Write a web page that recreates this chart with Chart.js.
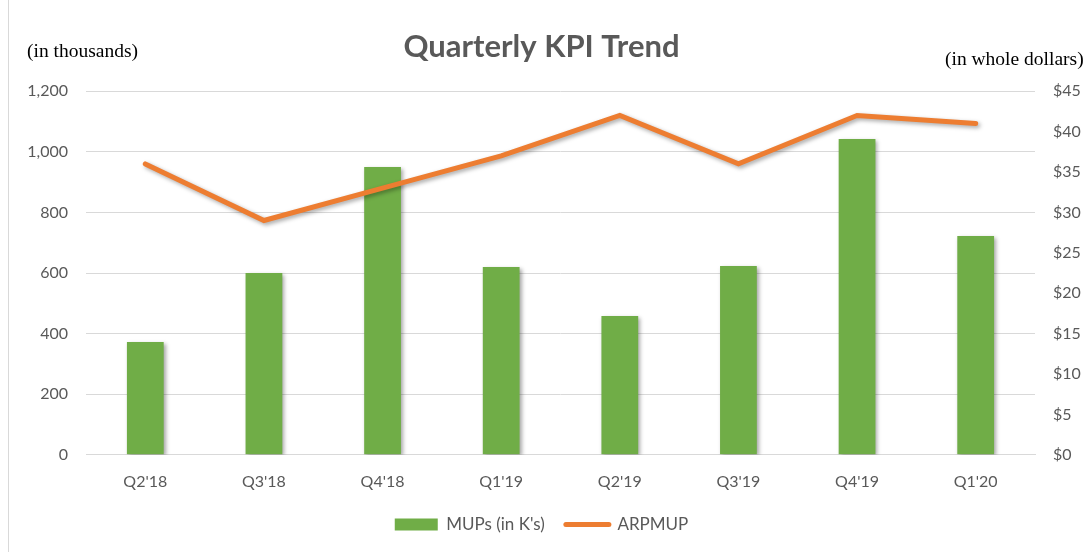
<!DOCTYPE html>
<html>
<head>
<meta charset="utf-8">
<script src="https://cdn.jsdelivr.net/npm/chart.js@4/dist/chart.umd.min.js"></script>
<style>
  html, body { margin:0; padding:0; background:#fff; }
  #wrap { width:1083px; height:552px; position:relative; }
</style>
</head>
<body>
<div id="wrap"><canvas id="kpi" width="1083" height="552"></canvas></div>
<script>
// données
const quarters = ["Q2'18","Q3'18","Q4'18","Q1'19","Q2'19","Q3'19","Q4'19","Q1'20"];
const mups = [372, 600, 950, 620, 458, 623, 1042, 722];
const arpmup = [36, 29, 33, 37, 42, 36, 42, 41];
const leftTicks = [0, 200, 400, 600, 800, 1000, 1200];
const rightTicks = [0, 5, 10, 15, 20, 25, 30, 35, 40, 45];

const grey = "#595959";
const font = "Lato, 'Open Sans', sans-serif";

// petits textes d'axes + bordure gauche + ombres
const extras = {
  id: "extras",
  beforeDraw(chart) {
    const c = chart.ctx;
    c.save();
    c.strokeStyle = "#d9d9d9";
    c.lineWidth = 1;
    c.beginPath();
    c.moveTo(8.5, 0);
    c.lineTo(8.5, 552);
    c.stroke();
    c.restore();
  },
  afterDraw(chart) {
    const c = chart.ctx;
    c.save();
    c.fillStyle = "#000";
    c.font = "19.5px 'Liberation Serif', serif";
    c.textBaseline = "middle";
    c.textAlign = "left";
    c.fillText("(in thousands)", 27, 52);
    c.fillText("(in whole dollars)", 945, 60);
    c.restore();
  },
  beforeDatasetDraw(chart) {
    const c = chart.ctx;
    c.save();
    c.shadowColor = "rgba(0,0,0,0.35)";
    c.shadowBlur = 4;
    c.shadowOffsetX = 2;
    c.shadowOffsetY = 2;
  },
  afterDatasetDraw(chart) {
    chart.ctx.restore();
  }
};

new Chart(document.getElementById("kpi"), {
  data: {
    labels: quarters,
    datasets: [
      {
        type: "line",
        label: "ARPMUP",
        data: arpmup,
        yAxisID: "y2",
        borderColor: "#ED7D31",
        backgroundColor: "#ED7D31",
        borderWidth: 5,
        borderCapStyle: "round",
        borderJoinStyle: "miter",
        pointRadius: 0,
        tension: 0,
        order: 0
      },
      {
        type: "bar",
        label: "MUPs (in K's)",
        data: mups,
        yAxisID: "y",
        backgroundColor: "#70AD47",
        categoryPercentage: 1,
        barPercentage: 0.31,
        order: 1
      }
    ]
  },
  options: {
    responsive: false,
    animation: false,
    layout: { padding: { left: 0, right: 0, top: 0, bottom: 9 } },
    plugins: {
      title: {
        display: true,
        text: "Quarterly KPI Trend",
        color: grey,
        font: { family: font, size: 31, weight: "bold" },
        padding: { top: 28, bottom: 26 }
      },
      legend: {
        position: "bottom",
        reverse: true,
        labels: {
          color: grey,
          font: { family: font, size: 17 },
          usePointStyle: true,
          pointStyleWidth: 43,
          boxWidth: 43,
          boxHeight: 12,
          padding: 8,
          generateLabels(chart) {
            return chart.data.datasets.map((ds, i) => ({
              // espaces en fin pour écarter les deux entrées
              text: ds.type === "line" ? ds.label : ds.label + "   ",
              fillStyle: ds.backgroundColor,
              strokeStyle: ds.backgroundColor,
              lineWidth: ds.type === "line" ? 5 : 0,
              lineCap: "round",
              pointStyle: ds.type === "line" ? "line" : "rect",
              fontColor: grey,
              datasetIndex: i
            }));
          }
        }
      },
      tooltip: { enabled: false }
    },
    scales: {
      x: {
        grid: { display: false, drawTicks: false },
        border: { display: true, color: "#d9d9d9" },
        ticks: { color: grey, font: { family: font, size: 16 }, padding: 17 }
      },
      y: {
        position: "left",
        min: 0, max: 1200,
        afterBuildTicks(s) { s.ticks = leftTicks.map(v => ({ value: v })); },
        afterFit(s) { s.width = 86; },
        grid: { color: "#d9d9d9", drawTicks: false },
        border: { display: false },
        ticks: {
          color: grey,
          font: { family: font, size: 16 },
          padding: 18,
          callback: v => v.toLocaleString("en-US")
        }
      },
      y2: {
        position: "right",
        min: 0, max: 45,
        afterBuildTicks(s) { s.ticks = rightTicks.map(v => ({ value: v })); },
        afterFit(s) { s.width = 48; },
        grid: { display: false, drawTicks: false },
        border: { display: false },
        ticks: {
          color: grey,
          font: { family: font, size: 16 },
          padding: 18,
          callback: v => "$" + v
        }
      }
    }
  },
  plugins: [extras]
});
</script>
</body>
</html>
